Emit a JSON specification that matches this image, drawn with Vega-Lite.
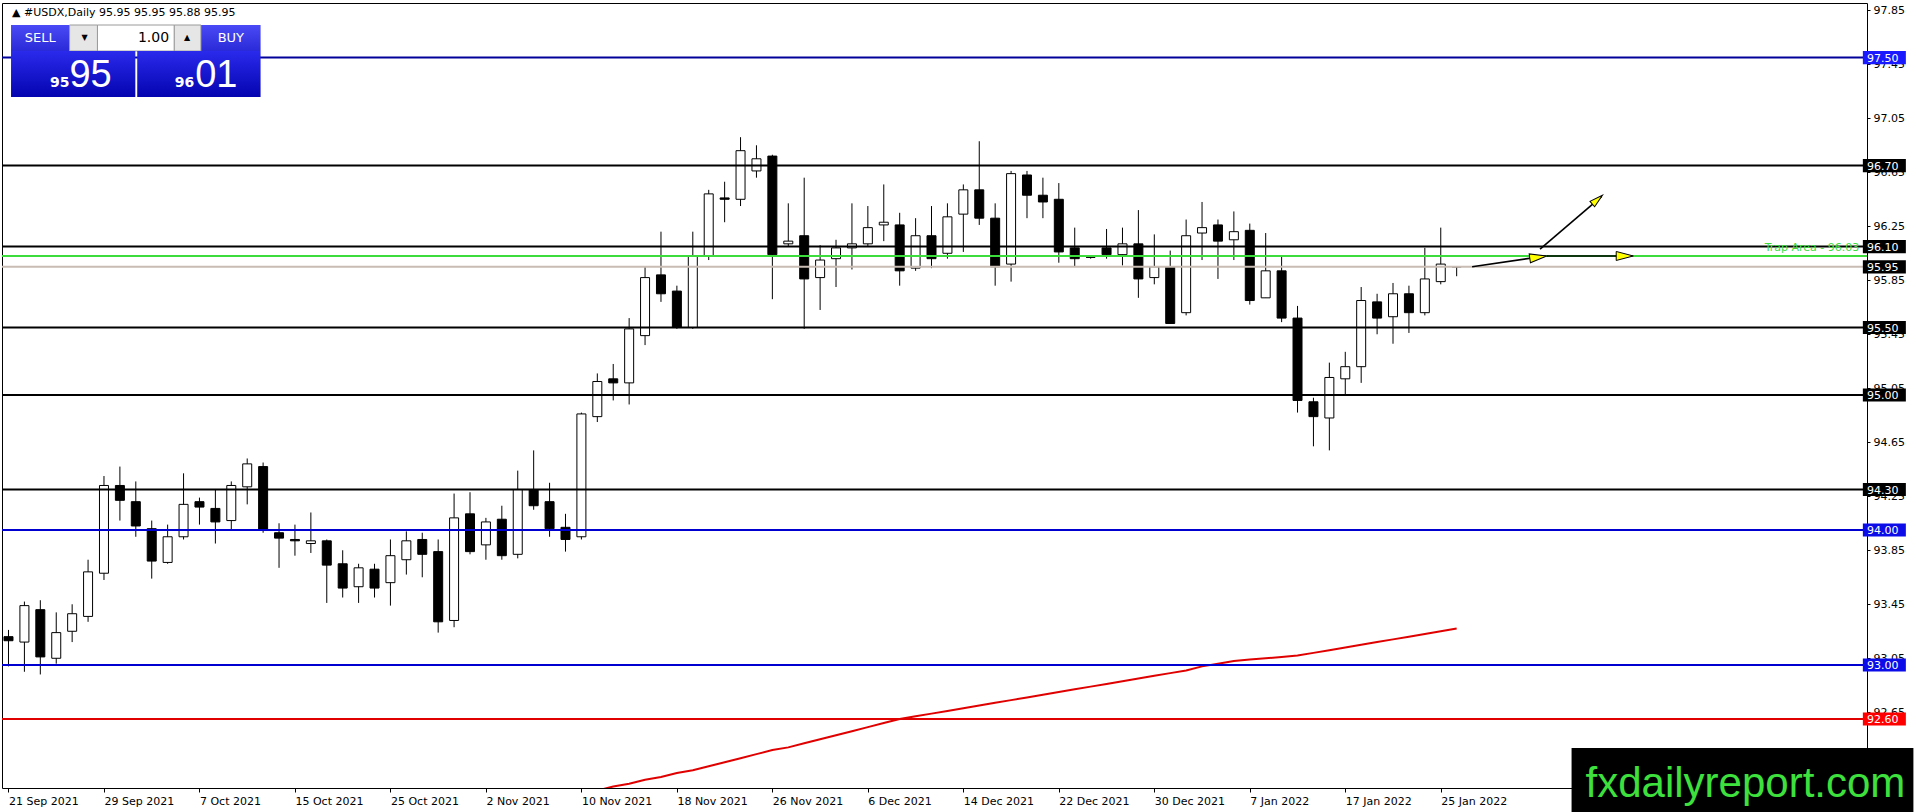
{
  "$schema": "https://vega.github.io/schema/vega-lite/v6.json",
  "width": 1865,
  "height": 785,
  "autosize": "none",
  "padding": {"left": 2, "top": 3, "right": 49, "bottom": 24},
  "background": "white",
  "config": {
    "view": {"stroke": "black", "strokeWidth": 1},
    "font": "DejaVu Sans",
    "axis": {"labelFont": "DejaVu Sans", "labelFontSize": 11, "labelColor": "black", "tickColor": "black", "grid": false, "domain": false}
  },
  "datasets": {
    "bars": [
      {"i": 0, "date": "2021-09-21", "o": 93.21, "h": 93.26, "l": 92.99, "c": 93.18},
      {"i": 1, "date": "2021-09-22", "o": 93.17, "h": 93.47, "l": 92.95, "c": 93.44},
      {"i": 2, "date": "2021-09-23", "o": 93.41, "h": 93.48, "l": 92.93, "c": 93.06},
      {"i": 3, "date": "2021-09-24", "o": 93.05, "h": 93.39, "l": 93.01, "c": 93.24},
      {"i": 4, "date": "2021-09-27", "o": 93.25, "h": 93.45, "l": 93.17, "c": 93.38},
      {"i": 5, "date": "2021-09-28", "o": 93.36, "h": 93.78, "l": 93.32, "c": 93.69},
      {"i": 6, "date": "2021-09-29", "o": 93.68, "h": 94.40, "l": 93.63, "c": 94.33},
      {"i": 7, "date": "2021-09-30", "o": 94.33, "h": 94.47, "l": 94.07, "c": 94.22},
      {"i": 8, "date": "2021-10-01", "o": 94.21, "h": 94.36, "l": 93.95, "c": 94.03},
      {"i": 9, "date": "2021-10-04", "o": 94.01, "h": 94.07, "l": 93.64, "c": 93.77},
      {"i": 10, "date": "2021-10-05", "o": 93.76, "h": 94.04, "l": 93.75, "c": 93.95},
      {"i": 11, "date": "2021-10-06", "o": 93.95, "h": 94.42, "l": 93.93, "c": 94.19},
      {"i": 12, "date": "2021-10-07", "o": 94.21, "h": 94.24, "l": 94.04, "c": 94.17},
      {"i": 13, "date": "2021-10-08", "o": 94.16, "h": 94.30, "l": 93.90, "c": 94.06},
      {"i": 14, "date": "2021-10-11", "o": 94.07, "h": 94.36, "l": 94.00, "c": 94.33},
      {"i": 15, "date": "2021-10-12", "o": 94.32, "h": 94.53, "l": 94.19, "c": 94.49},
      {"i": 16, "date": "2021-10-13", "o": 94.47, "h": 94.50, "l": 93.98, "c": 94.00},
      {"i": 17, "date": "2021-10-14", "o": 93.98, "h": 94.05, "l": 93.72, "c": 93.94},
      {"i": 18, "date": "2021-10-15", "o": 93.93, "h": 94.04, "l": 93.81, "c": 93.92},
      {"i": 19, "date": "2021-10-18", "o": 93.90, "h": 94.13, "l": 93.83, "c": 93.92},
      {"i": 20, "date": "2021-10-19", "o": 93.92, "h": 93.93, "l": 93.46, "c": 93.74},
      {"i": 21, "date": "2021-10-20", "o": 93.75, "h": 93.85, "l": 93.50, "c": 93.57},
      {"i": 22, "date": "2021-10-21", "o": 93.58, "h": 93.75, "l": 93.46, "c": 93.72},
      {"i": 23, "date": "2021-10-22", "o": 93.71, "h": 93.75, "l": 93.50, "c": 93.57},
      {"i": 24, "date": "2021-10-25", "o": 93.61, "h": 93.93, "l": 93.44, "c": 93.81},
      {"i": 25, "date": "2021-10-26", "o": 93.78, "h": 93.99, "l": 93.67, "c": 93.92},
      {"i": 26, "date": "2021-10-27", "o": 93.93, "h": 93.98, "l": 93.65, "c": 93.82},
      {"i": 27, "date": "2021-10-28", "o": 93.84, "h": 93.93, "l": 93.24, "c": 93.32},
      {"i": 28, "date": "2021-10-29", "o": 93.33, "h": 94.27, "l": 93.28, "c": 94.09},
      {"i": 29, "date": "2021-11-01", "o": 94.12, "h": 94.28, "l": 93.82, "c": 93.84},
      {"i": 30, "date": "2021-11-02", "o": 93.89, "h": 94.09, "l": 93.78, "c": 94.06},
      {"i": 31, "date": "2021-11-03", "o": 94.08, "h": 94.18, "l": 93.78, "c": 93.81},
      {"i": 32, "date": "2021-11-04", "o": 93.82, "h": 94.44, "l": 93.79, "c": 94.30},
      {"i": 33, "date": "2021-11-05", "o": 94.30, "h": 94.59, "l": 94.15, "c": 94.18},
      {"i": 34, "date": "2021-11-08", "o": 94.21, "h": 94.35, "l": 93.95, "c": 94.01},
      {"i": 35, "date": "2021-11-09", "o": 94.02, "h": 94.12, "l": 93.84, "c": 93.93},
      {"i": 36, "date": "2021-11-10", "o": 93.95, "h": 94.87, "l": 93.93, "c": 94.86, "ma": 92.04},
      {"i": 37, "date": "2021-11-11", "o": 94.84, "h": 95.16, "l": 94.80, "c": 95.10, "ma": 92.07},
      {"i": 38, "date": "2021-11-12", "o": 95.12, "h": 95.23, "l": 94.96, "c": 95.09, "ma": 92.10},
      {"i": 39, "date": "2021-11-15", "o": 95.09, "h": 95.57, "l": 94.93, "c": 95.49, "ma": 92.12},
      {"i": 40, "date": "2021-11-16", "o": 95.44, "h": 95.95, "l": 95.37, "c": 95.87, "ma": 92.15},
      {"i": 41, "date": "2021-11-17", "o": 95.89, "h": 96.21, "l": 95.69, "c": 95.75, "ma": 92.17},
      {"i": 42, "date": "2021-11-18", "o": 95.77, "h": 95.81, "l": 95.49, "c": 95.50, "ma": 92.20},
      {"i": 43, "date": "2021-11-19", "o": 95.50, "h": 96.21, "l": 95.49, "c": 96.03, "ma": 92.22},
      {"i": 44, "date": "2021-11-22", "o": 96.03, "h": 96.52, "l": 96.00, "c": 96.49, "ma": 92.25},
      {"i": 45, "date": "2021-11-23", "o": 96.46, "h": 96.58, "l": 96.28, "c": 96.45, "ma": 92.28},
      {"i": 46, "date": "2021-11-24", "o": 96.45, "h": 96.91, "l": 96.40, "c": 96.81, "ma": 92.31},
      {"i": 47, "date": "2021-11-25", "o": 96.66, "h": 96.85, "l": 96.61, "c": 96.75, "ma": 92.34},
      {"i": 48, "date": "2021-11-26", "o": 96.77, "h": 96.78, "l": 95.71, "c": 96.04, "ma": 92.37},
      {"i": 49, "date": "2021-11-29", "o": 96.12, "h": 96.42, "l": 96.10, "c": 96.14, "ma": 92.39},
      {"i": 50, "date": "2021-11-30", "o": 96.18, "h": 96.61, "l": 95.49, "c": 95.86, "ma": 92.42},
      {"i": 51, "date": "2021-12-01", "o": 95.87, "h": 96.11, "l": 95.63, "c": 96.00, "ma": 92.45},
      {"i": 52, "date": "2021-12-02", "o": 96.01, "h": 96.15, "l": 95.80, "c": 96.09, "ma": 92.48},
      {"i": 53, "date": "2021-12-03", "o": 96.09, "h": 96.42, "l": 95.93, "c": 96.12, "ma": 92.51},
      {"i": 54, "date": "2021-12-06", "o": 96.12, "h": 96.40, "l": 96.10, "c": 96.24, "ma": 92.54},
      {"i": 55, "date": "2021-12-07", "o": 96.26, "h": 96.56, "l": 96.14, "c": 96.28, "ma": 92.57},
      {"i": 56, "date": "2021-12-08", "o": 96.26, "h": 96.35, "l": 95.81, "c": 95.92, "ma": 92.60},
      {"i": 57, "date": "2021-12-09", "o": 95.94, "h": 96.31, "l": 95.92, "c": 96.18, "ma": 92.62},
      {"i": 58, "date": "2021-12-10", "o": 96.18, "h": 96.40, "l": 95.94, "c": 96.01, "ma": 92.64},
      {"i": 59, "date": "2021-12-13", "o": 96.05, "h": 96.42, "l": 96.01, "c": 96.32, "ma": 92.66},
      {"i": 60, "date": "2021-12-14", "o": 96.34, "h": 96.56, "l": 96.06, "c": 96.52, "ma": 92.68},
      {"i": 61, "date": "2021-12-15", "o": 96.52, "h": 96.88, "l": 96.26, "c": 96.31, "ma": 92.70},
      {"i": 62, "date": "2021-12-16", "o": 96.31, "h": 96.42, "l": 95.81, "c": 95.95, "ma": 92.72},
      {"i": 63, "date": "2021-12-17", "o": 95.97, "h": 96.66, "l": 95.84, "c": 96.64, "ma": 92.74},
      {"i": 64, "date": "2021-12-20", "o": 96.63, "h": 96.66, "l": 96.31, "c": 96.48, "ma": 92.76},
      {"i": 65, "date": "2021-12-21", "o": 96.48, "h": 96.61, "l": 96.31, "c": 96.43, "ma": 92.78},
      {"i": 66, "date": "2021-12-22", "o": 96.45, "h": 96.57, "l": 95.98, "c": 96.06, "ma": 92.80},
      {"i": 67, "date": "2021-12-23", "o": 96.09, "h": 96.24, "l": 95.95, "c": 96.01, "ma": 92.82},
      {"i": 68, "date": "2021-12-24", "o": 96.02, "h": 96.03, "l": 96.01, "c": 96.02, "ma": 92.84},
      {"i": 69, "date": "2021-12-27", "o": 96.09, "h": 96.23, "l": 96.01, "c": 96.04, "ma": 92.86},
      {"i": 70, "date": "2021-12-28", "o": 96.04, "h": 96.24, "l": 95.96, "c": 96.12, "ma": 92.88},
      {"i": 71, "date": "2021-12-29", "o": 96.12, "h": 96.37, "l": 95.72, "c": 95.86, "ma": 92.90},
      {"i": 72, "date": "2021-12-30", "o": 95.87, "h": 96.19, "l": 95.82, "c": 95.95, "ma": 92.92},
      {"i": 73, "date": "2021-12-31", "o": 95.95, "h": 96.07, "l": 95.53, "c": 95.53, "ma": 92.94},
      {"i": 74, "date": "2022-01-03", "o": 95.61, "h": 96.30, "l": 95.59, "c": 96.18, "ma": 92.96},
      {"i": 75, "date": "2022-01-04", "o": 96.20, "h": 96.43, "l": 96.00, "c": 96.24, "ma": 92.99},
      {"i": 76, "date": "2022-01-05", "o": 96.26, "h": 96.30, "l": 95.86, "c": 96.14, "ma": 93.01},
      {"i": 77, "date": "2022-01-06", "o": 96.15, "h": 96.36, "l": 96.00, "c": 96.21, "ma": 93.03},
      {"i": 78, "date": "2022-01-07", "o": 96.22, "h": 96.27, "l": 95.67, "c": 95.70, "ma": 93.04},
      {"i": 79, "date": "2022-01-10", "o": 95.72, "h": 96.20, "l": 95.72, "c": 95.92, "ma": 93.05},
      {"i": 80, "date": "2022-01-11", "o": 95.92, "h": 96.03, "l": 95.54, "c": 95.57, "ma": 93.06},
      {"i": 81, "date": "2022-01-12", "o": 95.57, "h": 95.66, "l": 94.87, "c": 94.96, "ma": 93.07},
      {"i": 82, "date": "2022-01-13", "o": 94.95, "h": 94.98, "l": 94.62, "c": 94.84, "ma": 93.09},
      {"i": 83, "date": "2022-01-14", "o": 94.83, "h": 95.24, "l": 94.59, "c": 95.13, "ma": 93.11},
      {"i": 84, "date": "2022-01-17", "o": 95.12, "h": 95.32, "l": 95.00, "c": 95.21, "ma": 93.13},
      {"i": 85, "date": "2022-01-18", "o": 95.21, "h": 95.80, "l": 95.09, "c": 95.70, "ma": 93.15},
      {"i": 86, "date": "2022-01-19", "o": 95.69, "h": 95.75, "l": 95.45, "c": 95.57, "ma": 93.17},
      {"i": 87, "date": "2022-01-20", "o": 95.58, "h": 95.83, "l": 95.38, "c": 95.75, "ma": 93.19},
      {"i": 88, "date": "2022-01-21", "o": 95.75, "h": 95.81, "l": 95.46, "c": 95.61, "ma": 93.21},
      {"i": 89, "date": "2022-01-24", "o": 95.61, "h": 96.09, "l": 95.59, "c": 95.86, "ma": 93.23},
      {"i": 90, "date": "2022-01-25", "o": 95.84, "h": 96.24, "l": 95.82, "c": 95.97, "ma": 93.25},
      {"i": 91, "date": "2022-01-26", "o": 95.95, "h": 95.95, "l": 95.88, "c": 95.95, "ma": 93.27}
    ],
    "levels": [
      {"v": 97.50, "kind": "resistance"},
      {"v": 96.70, "kind": "minor"},
      {"v": 96.10, "kind": "minor"},
      {"v": 96.03, "kind": "trap"},
      {"v": 95.95, "kind": "bid"},
      {"v": 95.50, "kind": "minor"},
      {"v": 95.00, "kind": "pivot"},
      {"v": 94.30, "kind": "minor"},
      {"v": 94.00, "kind": "support"},
      {"v": 93.00, "kind": "support"},
      {"v": 92.60, "kind": "target"}
    ],
    "arrows": [
      {"arrow": "trap", "i": 91.97, "v": 95.95},
      {"arrow": "trap", "i": 96.6, "v": 96.03},
      {"arrow": "up", "i": 96.24, "v": 96.08},
      {"arrow": "up", "i": 100.1, "v": 96.47},
      {"arrow": "flat", "i": 96.66, "v": 96.03},
      {"arrow": "flat", "i": 102.0, "v": 96.03}
    ]
  },
  "layer": [
    {
      "data": {"name": "bars"},
      "mark": {"type": "rule", "color": "black", "strokeWidth": 1, "clip": true},
      "encoding": {
        "x": {
          "field": "i", "type": "quantitative",
          "scale": {"domain": [-0.094, 116.47], "nice": false, "zero": false},
          "axis": {
            "orient": "bottom", "title": null,
            "values": [0, 6, 12, 18, 24, 30, 36, 42, 48, 54, 60, 66, 72, 78, 84, 90],
            "labelExpr": "['21 Sep 2021','29 Sep 2021','7 Oct 2021','15 Oct 2021','25 Oct 2021','2 Nov 2021','10 Nov 2021','18 Nov 2021','26 Nov 2021','6 Dec 2021','14 Dec 2021','22 Dec 2021','30 Dec 2021','7 Jan 2022','17 Jan 2022','25 Jan 2022'][round(datum.value / 6)]",
            "tickSize": 4, "labelAlign": "left", "labelBaseline": "top", "labelPadding": 3,
            "labelOverlap": false, "labelFlush": false
          }
        },
        "y": {
          "field": "l", "type": "quantitative",
          "scale": {"domain": [92.089, 97.904], "nice": false, "zero": false},
          "axis": {
            "orient": "right", "title": null,
            "values": [92.65, 93.05, 93.45, 93.85, 94.25, 94.65, 95.05, 95.45, 95.85, 96.25, 96.65, 97.05, 97.45, 97.85],
            "format": ".2f", "tickSize": 3, "labelPadding": 3,
            "labelOverlap": false, "labelFlush": false
          }
        },
        "y2": {"field": "h"}
      }
    },
    {
      "data": {"name": "bars"},
      "mark": {"type": "bar", "size": 9, "stroke": "black", "strokeWidth": 1, "clip": true},
      "encoding": {
        "x": {"field": "i", "type": "quantitative", "axis": {"title": null}},
        "y": {"field": "o", "type": "quantitative", "axis": {"title": null}},
        "y2": {"field": "c"},
        "fill": {"condition": {"test": "datum.c < datum.o", "value": "#000000"}, "value": "#ffffff"}
      }
    },
    {
      "data": {"name": "bars"},
      "mark": {"type": "line", "color": "#e00000", "strokeWidth": 2, "clip": true},
      "encoding": {
        "x": {"field": "i", "type": "quantitative", "axis": {"title": null}},
        "y": {"field": "ma", "type": "quantitative", "axis": {"title": null}}
      }
    },
    {
      "data": {"name": "levels"},
      "mark": {"type": "rule"},
      "encoding": {
        "y": {"field": "v", "type": "quantitative", "axis": {"title": null}},
        "stroke": {
          "field": "kind", "type": "nominal", "legend": null,
          "scale": {"domain": ["resistance", "support", "minor", "pivot", "trap", "bid", "target"],
                    "range": ["#00009a", "#0000d0", "#000000", "#000000", "#3ddc3d", "#c8bcb4", "#e00000"]}
        },
        "strokeWidth": {
          "field": "kind", "type": "nominal", "legend": null,
          "scale": {"domain": ["resistance", "support", "minor", "pivot", "trap", "bid", "target"],
                    "range": [2, 2, 1, 2, 3, 1, 1]}
        }
      }
    },
    {
      "data": {"name": "arrows"},
      "mark": {"type": "line", "color": "black", "strokeWidth": 1.6},
      "encoding": {
        "x": {"field": "i", "type": "quantitative", "axis": {"title": null}},
        "y": {"field": "v", "type": "quantitative", "axis": {"title": null}},
        "detail": {"field": "arrow"}
      }
    },
    {
      "data": {"values": [{"i": 96.66, "v": 96.03}]},
      "mark": {"type": "point", "shape": "M0,0L-1.9,-0.5L-1.9,0.5Z", "size": 324, "filled": true, "fill": "#ffff00", "stroke": "black", "strokeWidth": 1, "opacity": 1, "angle": 352},
      "encoding": {
        "x": {"field": "i", "type": "quantitative", "axis": {"title": null}},
        "y": {"field": "v", "type": "quantitative", "axis": {"title": null}}
      }
    },
    {
      "data": {"values": [{"i": 100.16, "v": 96.48}]},
      "mark": {"type": "point", "shape": "M0,0L-1.9,-0.5L-1.9,0.5Z", "size": 200, "filled": true, "fill": "#ffff00", "stroke": "black", "strokeWidth": 1, "opacity": 1, "angle": 319},
      "encoding": {
        "x": {"field": "i", "type": "quantitative", "axis": {"title": null}},
        "y": {"field": "v", "type": "quantitative", "axis": {"title": null}}
      }
    },
    {
      "data": {"values": [{"i": 102.1, "v": 96.03}]},
      "mark": {"type": "point", "shape": "M0,0L-1.9,-0.5L-1.9,0.5Z", "size": 324, "filled": true, "fill": "#ffff00", "stroke": "black", "strokeWidth": 1, "opacity": 1, "angle": 0},
      "encoding": {
        "x": {"field": "i", "type": "quantitative", "axis": {"title": null}},
        "y": {"field": "v", "type": "quantitative", "axis": {"title": null}}
      }
    },
    {
      "data": {"name": "levels"},
      "transform": [{"filter": "datum.kind != 'trap'"}],
      "mark": {"type": "point", "shape": "M-1.5,-0.46L1.5,-0.46L1.5,0.46L-1.5,0.46Z", "size": 822, "filled": true, "opacity": 1, "strokeWidth": 0, "clip": false},
      "encoding": {
        "x": {"datum": 117.875, "type": "quantitative", "axis": {"title": null}},
        "y": {"field": "v", "type": "quantitative", "axis": {"title": null}},
        "fill": {
          "field": "kind", "type": "nominal", "legend": null,
          "scale": {"domain": ["resistance", "support", "minor", "pivot", "bid", "target"],
                    "range": ["#1a1aff", "#0c0ce8", "#000000", "#000000", "#000000", "#ff0000"]}
        }
      }
    },
    {
      "data": {"name": "levels"},
      "transform": [{"filter": "datum.kind != 'trap'"}],
      "mark": {"type": "text", "align": "left", "baseline": "middle", "color": "white", "font": "DejaVu Sans", "fontSize": 11, "dy": 1, "clip": false},
      "encoding": {
        "x": {"datum": 116.78, "type": "quantitative", "axis": {"title": null}},
        "y": {"field": "v", "type": "quantitative", "axis": {"title": null}},
        "text": {"field": "v", "type": "quantitative", "format": ".2f"}
      }
    },
    {
      "data": {"values": [{"label": "Trap Area - 96.03", "i": 116.3, "v": 96.09}]},
      "mark": {"type": "text", "align": "right", "baseline": "middle", "color": "#3ddc3d", "font": "DejaVu Sans", "fontSize": 11},
      "encoding": {
        "x": {"field": "i", "type": "quantitative", "axis": {"title": null}},
        "y": {"field": "v", "type": "quantitative", "axis": {"title": null}},
        "text": {"field": "label"}
      }
    },
    {
      "data": {"values": [{"label": "▲  #USDX,Daily  95.95 95.95 95.88 95.95", "i": 0.22, "v": 97.83}]},
      "mark": {"type": "text", "align": "left", "baseline": "middle", "color": "black", "font": "DejaVu Sans", "fontSize": 11},
      "encoding": {
        "x": {"field": "i", "type": "quantitative", "axis": {"title": null}},
        "y": {"field": "v", "type": "quantitative", "axis": {"title": null}},
        "text": {"field": "label"}
      }
    },
    {
      "data": {"values": [
        {"part": "sell button", "i": 0.16, "i2": 3.84, "v": 97.548, "v2": 97.741},
        {"part": "buy button", "i": 12.09, "i2": 15.84, "v": 97.548, "v2": 97.741}
      ]},
      "mark": {"type": "rect", "clip": false, "fill": {"gradient": "linear", "x1": 0, "y1": 0, "x2": 0, "y2": 1, "stops": [{"offset": 0, "color": "#4a4af6"}, {"offset": 1, "color": "#2a2ad8"}]}},
      "encoding": {
        "x": {"field": "i", "type": "quantitative", "axis": {"title": null}},
        "x2": {"field": "i2"},
        "y": {"field": "v", "type": "quantitative", "axis": {"title": null}},
        "y2": {"field": "v2"}
      }
    },
    {
      "data": {"values": [
        {"part": "lot down", "i": 3.84, "i2": 5.59, "v": 97.548, "v2": 97.741},
        {"part": "lot up", "i": 10.41, "i2": 12.09, "v": 97.548, "v2": 97.741}
      ]},
      "mark": {"type": "rect", "clip": false, "fill": "#e6e6e6", "stroke": "#9a9a9a", "strokeWidth": 1},
      "encoding": {
        "x": {"field": "i", "type": "quantitative", "axis": {"title": null}},
        "x2": {"field": "i2"},
        "y": {"field": "v", "type": "quantitative", "axis": {"title": null}},
        "y2": {"field": "v2"}
      }
    },
    {
      "data": {"values": [{"part": "lot", "i": 5.59, "i2": 10.41, "v": 97.548, "v2": 97.741}]},
      "mark": {"type": "rect", "clip": false, "fill": "#ffffff", "stroke": "#9a9a9a", "strokeWidth": 1},
      "encoding": {
        "x": {"field": "i", "type": "quantitative", "axis": {"title": null}},
        "x2": {"field": "i2"},
        "y": {"field": "v", "type": "quantitative", "axis": {"title": null}},
        "y2": {"field": "v2"}
      }
    },
    {
      "data": {"values": [
        {"part": "bid", "i": 0.16, "i2": 7.97, "v": 97.207, "v2": 97.548},
        {"part": "ask", "i": 8.09, "i2": 15.84, "v": 97.207, "v2": 97.548}
      ]},
      "mark": {"type": "rect", "clip": false, "fill": {"gradient": "linear", "x1": 0, "y1": 0, "x2": 0, "y2": 1, "stops": [{"offset": 0, "color": "#2a2aec"}, {"offset": 1, "color": "#0404b0"}]}},
      "encoding": {
        "x": {"field": "i", "type": "quantitative", "axis": {"title": null}},
        "x2": {"field": "i2"},
        "y": {"field": "v", "type": "quantitative", "axis": {"title": null}},
        "y2": {"field": "v2"}
      }
    },
    {
      "data": {"values": [{"t": "SELL", "i": 2.0, "v": 97.644}, {"t": "BUY", "i": 13.97, "v": 97.644}]},
      "mark": {"type": "text", "align": "center", "baseline": "middle", "color": "white", "font": "DejaVu Sans", "fontSize": 13},
      "encoding": {
        "x": {"field": "i", "type": "quantitative", "axis": {"title": null}},
        "y": {"field": "v", "type": "quantitative", "axis": {"title": null}},
        "text": {"field": "t"}
      }
    },
    {
      "data": {"values": [{"t": "1.00", "i": 10.09, "v": 97.644}]},
      "mark": {"type": "text", "align": "right", "baseline": "middle", "color": "black", "font": "DejaVu Sans", "fontSize": 14},
      "encoding": {
        "x": {"field": "i", "type": "quantitative", "axis": {"title": null}},
        "y": {"field": "v", "type": "quantitative", "axis": {"title": null}},
        "text": {"field": "t"}
      }
    },
    {
      "data": {"values": [{"t": "▼", "i": 4.78, "v": 97.644}, {"t": "▲", "i": 11.22, "v": 97.644}]},
      "mark": {"type": "text", "align": "center", "baseline": "middle", "color": "black", "font": "DejaVu Sans", "fontSize": 8},
      "encoding": {
        "x": {"field": "i", "type": "quantitative", "axis": {"title": null}},
        "y": {"field": "v", "type": "quantitative", "axis": {"title": null}},
        "text": {"field": "t"}
      }
    },
    {
      "data": {"values": [{"t": "95", "i": 3.22, "v": 97.281}, {"t": "96", "i": 11.06, "v": 97.281}]},
      "mark": {"type": "text", "align": "center", "baseline": "alphabetic", "color": "white", "font": "DejaVu Sans", "fontSize": 14, "fontWeight": "bold"},
      "encoding": {
        "x": {"field": "i", "type": "quantitative", "axis": {"title": null}},
        "y": {"field": "v", "type": "quantitative", "axis": {"title": null}},
        "text": {"field": "t"}
      }
    },
    {
      "data": {"values": [{"t": "95", "i": 5.16, "v": 97.281}, {"t": "01", "i": 13.06, "v": 97.281}]},
      "mark": {"type": "text", "align": "center", "baseline": "alphabetic", "color": "white", "font": "Liberation Sans", "fontSize": 38},
      "encoding": {
        "x": {"field": "i", "type": "quantitative", "axis": {"title": null}},
        "y": {"field": "v", "type": "quantitative", "axis": {"title": null}},
        "text": {"field": "t"}
      }
    },
    {
      "data": {"values": [{"part": "watermark", "i": 98.22, "i2": 119.7, "v": 91.8, "v2": 92.385}]},
      "mark": {"type": "rect", "clip": false, "fill": "#000000"},
      "encoding": {
        "x": {"field": "i", "type": "quantitative", "axis": {"title": null}},
        "x2": {"field": "i2"},
        "y": {"field": "v", "type": "quantitative", "axis": {"title": null}},
        "y2": {"field": "v2"}
      }
    },
    {
      "data": {"values": [{"t": "fxdailyreport.com", "i": 99.1, "v": 92.022}]},
      "mark": {"type": "text", "align": "left", "baseline": "alphabetic", "color": "#3ee03e", "font": "Liberation Sans", "fontSize": 42, "clip": false},
      "encoding": {
        "x": {"field": "i", "type": "quantitative", "axis": {"title": null}},
        "y": {"field": "v", "type": "quantitative", "axis": {"title": null}},
        "text": {"field": "t"}
      }
    }
  ]
}
